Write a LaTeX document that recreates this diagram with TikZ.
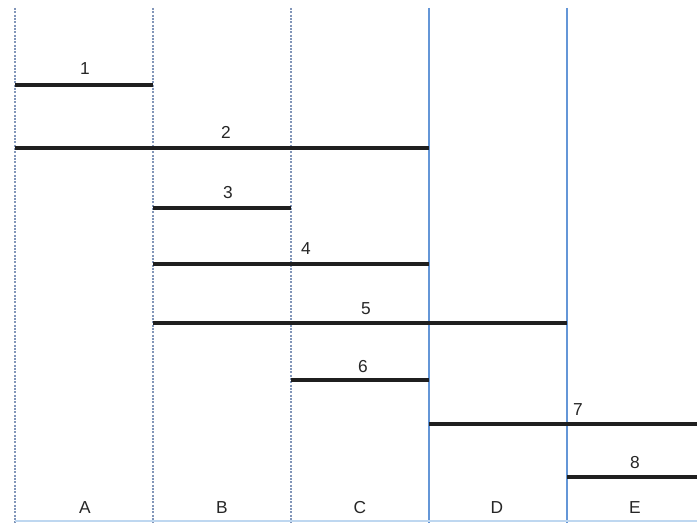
\documentclass[tikz,border=0pt]{standalone}
\usepackage{fontspec}
\setmainfont{Liberation Sans}
\definecolor{gridgray}{RGB}{130,150,185}
\definecolor{gridblue}{RGB}{100,150,215}
\definecolor{baseblue}{RGB}{190,215,240}
\tikzset{
  dotcol/.style={gridgray,line width=1.5pt,densely dotted},
  solidcol/.style={gridblue,line width=1pt},
  bar/.style={line width=3.4pt,black!88},
  num/.style={inner sep=0pt,font=\fontsize{13}{13}\selectfont,black!85},
}
\begin{document}
\begin{tikzpicture}[x=0.75pt,y=-0.75pt]
 \useasboundingbox (0,0) rectangle (697,523);
 % column boundaries
 \foreach \x/\n/\s in {15/a/dotcol,153/b/dotcol,291/c/dotcol,429/d/solidcol,567/e/solidcol}{
  \coordinate (top\n) at (\x,8); \coordinate (bot\n) at (\x,523);
  \draw[\s] (top\n) -- (bot\n);
 }
 \coordinate (botr) at (697,521);
 \draw[baseblue,line width=1pt] (15,521) -- (botr);
 % bars
 \coordinate (s1) at (15,85);   \coordinate (e1) at (153,85);  \draw[bar] (s1) -- (e1);
 \coordinate (s2) at (15,148);  \coordinate (e2) at (429,148); \draw[bar] (s2) -- (e2);
 \coordinate (s3) at (153,208); \coordinate (e3) at (291,208); \draw[bar] (s3) -- (e3);
 \coordinate (s4) at (153,264); \coordinate (e4) at (429,264); \draw[bar] (s4) -- (e4);
 \coordinate (s5) at (153,323); \coordinate (e5) at (567,323); \draw[bar] (s5) -- (e5);
 \coordinate (s6) at (291,380); \coordinate (e6) at (429,380); \draw[bar] (s6) -- (e6);
 \coordinate (s7) at (429,424); \coordinate (e7) at (697,424); \draw[bar] (s7) -- (e7);
 \coordinate (s8) at (567,477); \coordinate (e8) at (697,477); \draw[bar] (s8) -- (e8);
 % bar numbers
 \node[num] (n1) at (85,69) {1};
 \node[num] (n2) at (226,132) {2};
 \node[num] (n3) at (228,193) {3};
 \node[num] (n4) at (306,249) {4};
 \node[num] (n5) at (366,309) {5};
 \node[num] (n6) at (363,367) {6};
 \node[num] (n7) at (578,410) {7};
 \node[num] (n8) at (635,463) {8};
 % column names
 \foreach \x/\l in {85/A,222/B,360/C,497/D,635/E}
  \node[num] (col\l) at (\x,508) {\l};
\end{tikzpicture}
\end{document}
